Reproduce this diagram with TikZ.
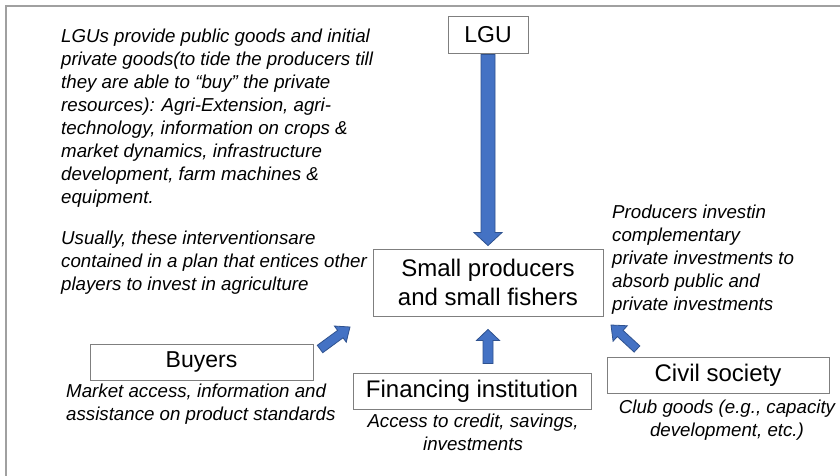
\documentclass[tikz,border=0pt]{standalone}
\usepackage{fontspec}
\setmainfont{Liberation Sans}
\usetikzlibrary{calc}
\definecolor{arrfill}{HTML}{4472C4}
\definecolor{arrline}{HTML}{2F528F}
\definecolor{boxline}{HTML}{7F7F7F}
\definecolor{framecol}{HTML}{A0A0A0}
\newcommand\blockarrow[5]{%
  \coordinate (hb) at ($(#2)!#5!(#1)$);
  \draw[barrow] ($(#1)!#3!90:(#2)$) -- ($(hb)!#3!90:(#2)$) -- ($(hb)!#4!90:(#2)$) -- (#2)
    -- ($(hb)!#4!-90:(#2)$) -- ($(hb)!#3!-90:(#2)$) -- ($(#1)!#3!-90:(#2)$) -- cycle;}
\begin{document}
\begin{tikzpicture}[x=1pt,y=-1pt,
  actor/.style={draw=boxline, line width=0.9pt, fill=white, inner sep=0pt,
    font=\fontsize{24}{29}\selectfont, align=center},
  note/.style={inner sep=0pt, font=\fontsize{18.7}{23}\selectfont\itshape},
  barrow/.style={fill=arrfill, draw=arrline, line width=0.8pt, line join=miter}]
\useasboundingbox (0,0) rectangle (840,476);
\fill[white] (0,0) rectangle (840,476);
\draw[framecol, line width=1.5pt] (6,480) -- (6,6) -- (845,6);

% boxes
\node[actor, minimum width=80pt, minimum height=37pt, font=\fontsize{23}{28}\selectfont] (lgu) at (488,34.5) {LGU};
\node[actor, minimum width=230pt, minimum height=67pt] (prod) at (488,282.5) {Small producers\\and small fishers};
\node[actor, minimum width=223pt, minimum height=36pt, font=\fontsize{23}{28}\selectfont] (buy) at (201.5,362) {Buyers};
\node[actor, minimum width=238pt, minimum height=36pt] (fin) at (472,391) {Financing institution};
\node[actor, minimum width=222pt, minimum height=36pt] (civ) at (718,375) {Civil society};

% notes
\node[note, anchor=north west, align=left] (n1) at (61,28.4) {LGUs provide public goods and initial\\
private goods(to tide the producers till\\
they are able to “buy” the private\\
resources): Agri-Extension, agri-\\
technology, information on crops \&\\
market dynamics, infrastructure\\
development, farm machines \&\\
equipment.};
\node[note, anchor=north west, align=left] (n2) at (61,230.4) {Usually, these interventionsare\\
contained in a plan that entices other\\
players to invest in agriculture};
\node[note, anchor=north west, align=left] (n3) at (612,204.4) {Producers investin\\
complementary\\
private investments to\\
absorb public and\\
private investments};
\node[note, anchor=north west, align=left] (n4) at (66,383.4) {Market access, information and\\
assistance on product standards};
\node[note, anchor=north, align=center] (n5) at (473,413.4) {Access to credit, savings,\\investments};
\node[note, anchor=north, align=center] (n6) at (727,399.4) {Club goods (e.g., capacity\\development, etc.)};

% arrow end points
\coordinate (lguS) at ($(lgu.south)+(0,1)$);
\coordinate (lguT) at ($(prod.north)+(0,-3)$);
\coordinate (buyS) at (320,349);
\coordinate (buyT) at (350,327);
\coordinate (finS) at ($(fin.north)+(16,-9)$);
\coordinate (finT) at ($(prod.south)+(0,13)$);
\coordinate (civS) at (637,349);
\coordinate (civT) at (611,325);

\blockarrow{lguS}{lguT}{7pt}{14pt}{13pt}
\blockarrow{buyS}{buyT}{4.6pt}{10pt}{12pt}
\blockarrow{finS}{finT}{5pt}{11.5pt}{11pt}
\blockarrow{civS}{civT}{4.2pt}{10.5pt}{12.5pt}
\end{tikzpicture}
\end{document}
